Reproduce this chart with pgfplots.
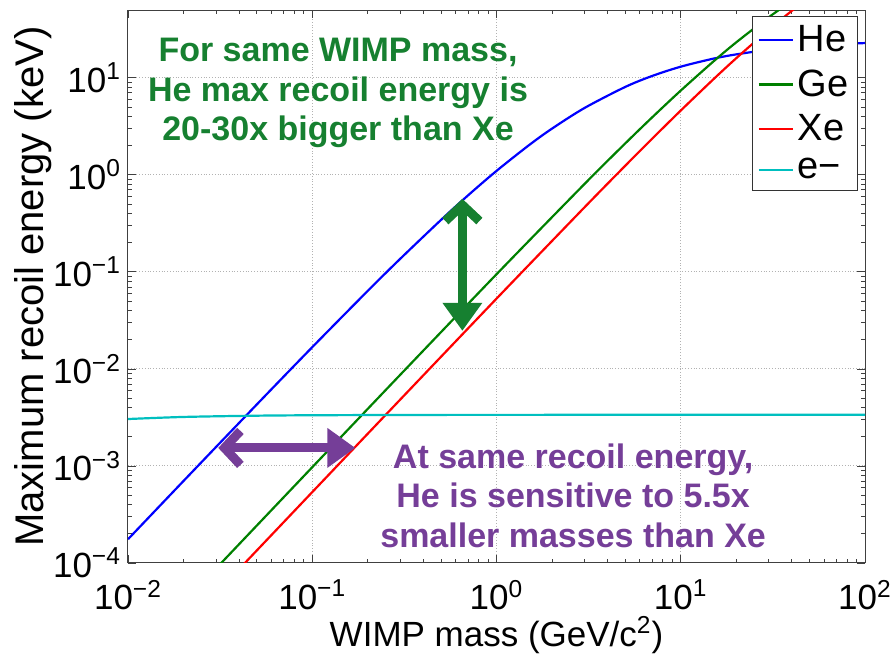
\documentclass[border=0pt]{standalone}
\usepackage{fontspec}
\setmainfont{Liberation Sans}
\usepackage{pgfplots}
\pgfplotsset{compat=1.18}
\usetikzlibrary{arrows.meta,calc}

\definecolor{mblue}{RGB}{0,0,255}
\definecolor{mgreen}{RGB}{0,128,0}
\definecolor{mred}{RGB}{255,0,0}
\definecolor{mcyan}{RGB}{0,191,191}
\definecolor{annogreen}{RGB}{22,128,48}
\definecolor{annopurple}{RGB}{117,62,152}

\begin{document}
\begin{tikzpicture}
\begin{axis}[
  name=ax,
  scale only axis,
  width=368.5pt, height=276.5pt,
  xmode=log, ymode=log,
  xmin=0.01, xmax=100, ymin=1e-4, ymax=50,
  xtick={0.01,0.1,1,10,100},
  xticklabels={10\textsuperscript{−2},10\textsuperscript{−1},10\textsuperscript{0},10\textsuperscript{1},10\textsuperscript{2}},
  ytick={1e-4,1e-3,1e-2,1e-1,1,10},
  yticklabels={10\textsuperscript{−4},10\textsuperscript{−3},10\textsuperscript{−2},10\textsuperscript{−1},10\textsuperscript{0},10\textsuperscript{1}},
  tick label style={font=\fontsize{17.5}{20}\selectfont},
  xticklabel style={yshift=-5pt},
  grid=major,
  major grid style={densely dotted, black!30, line width=0.5pt},
  tick align=inside,
  major tick length=4pt, minor tick length=2pt,
  axis line style={black!75, line width=0.5pt},
  every tick/.style={black!75, line width=0.4pt},
  xlabel={WIMP mass (GeV/c\textsuperscript{2})},
  ylabel={Maximum recoil energy (keV)},
  xlabel style={font=\fontsize{17.5}{20}\selectfont},
  xlabel shift=-3.5pt,
  ylabel style={font=\fontsize{20}{22}\selectfont},
  ylabel shift=-6pt,
  legend style={at={(rel axis cs:0.9905,0.989)}, anchor=north east,
    font=\fontsize{19}{22}\selectfont, draw=black!80, line width=0.5pt,
    row sep=3.5pt, inner sep=2.5pt},
  legend cell align=left,
  every axis plot/.append style={line width=1.1pt},
]
\addplot[mblue, smooth] coordinates {
 (0.01,1.757e-4) (0.02,6.991e-4) (0.05,4.301e-3) (0.1,0.016755) (0.2,0.063652)
 (0.3,0.13620) (0.5,0.34338) (0.7,0.61360) (1,1.0984) (1.5,2.0213) (2,2.9933)
 (3,4.8818) (5,8.0578) (7,10.454) (10,13.028) (15,15.751) (20,17.444)
 (30,19.425) (50,21.264) (70,22.133) (100,22.820)};
\addlegendentry{He}
\addplot[mgreen, smooth] coordinates {
 (0.03,8.753e-5) (0.1,9.705e-4) (0.3,8.684e-3) (1,0.094527) (3,0.80326)
 (5,2.1101) (7,3.9172) (10,7.3887) (15,14.674) (20,23.195) (30,42.051)
 (40,61.513) (50,80.47)};
\addlegendentry{Ge}
\addplot[mred, smooth] coordinates {
 (0.04,8.611e-5) (0.1,5.3764e-4) (0.3,4.8230e-3) (1,0.052982) (3,0.46174)
 (5,1.2426) (7,2.3607) (10,4.6018) (15,9.614) (20,15.911) (30,31.253)
 (40,48.926) (50,67.83)};
\addlegendentry{Xe}
\addplot[mcyan, smooth] coordinates {
 (0.01,3.046e-3) (0.02,3.1999e-3) (0.05,3.2978e-3) (0.1,3.3314e-3)
 (0.3,3.3541e-3) (1,3.3621e-3) (10,3.3653e-3) (100,3.3655e-3)};
\addlegendentry{e−}

% annotations
\draw[annogreen, line width=4.5pt,
  {Straight Barb[length=8pt,width=17pt]}-{Triangle[length=14pt,width=19pt]}]
  (axis cs:0.653,0.566) -- (axis cs:0.653,0.0247);
\draw[annopurple, line width=4.5pt,
  {Straight Barb[length=8pt,width=17pt]}-{Triangle[length=14pt,width=19pt]}]
  (axis cs:0.0309,1.535e-3) -- (axis cs:0.1714,1.535e-3);

\node[annogreen, font=\fontsize{17}{19.8}\selectfont\bfseries, align=center]
  at (rel axis cs:0.285,0.85)
  {For same WIMP mass,\\He max recoil energy is\\20-30x bigger than Xe};
\node[annopurple, font=\fontsize{17}{19.8}\selectfont\bfseries, align=center]
  at (rel axis cs:0.604,0.122)
  {At same recoil energy,\\He is sensitive to 5.5x\\smaller masses than Xe};
\end{axis}
\pgfresetboundingbox
\path ([shift={(-64pt,-50.5pt)}]ax.south west) rectangle ([shift={(13.5pt,5pt)}]ax.north east);
\end{tikzpicture}
\end{document}
